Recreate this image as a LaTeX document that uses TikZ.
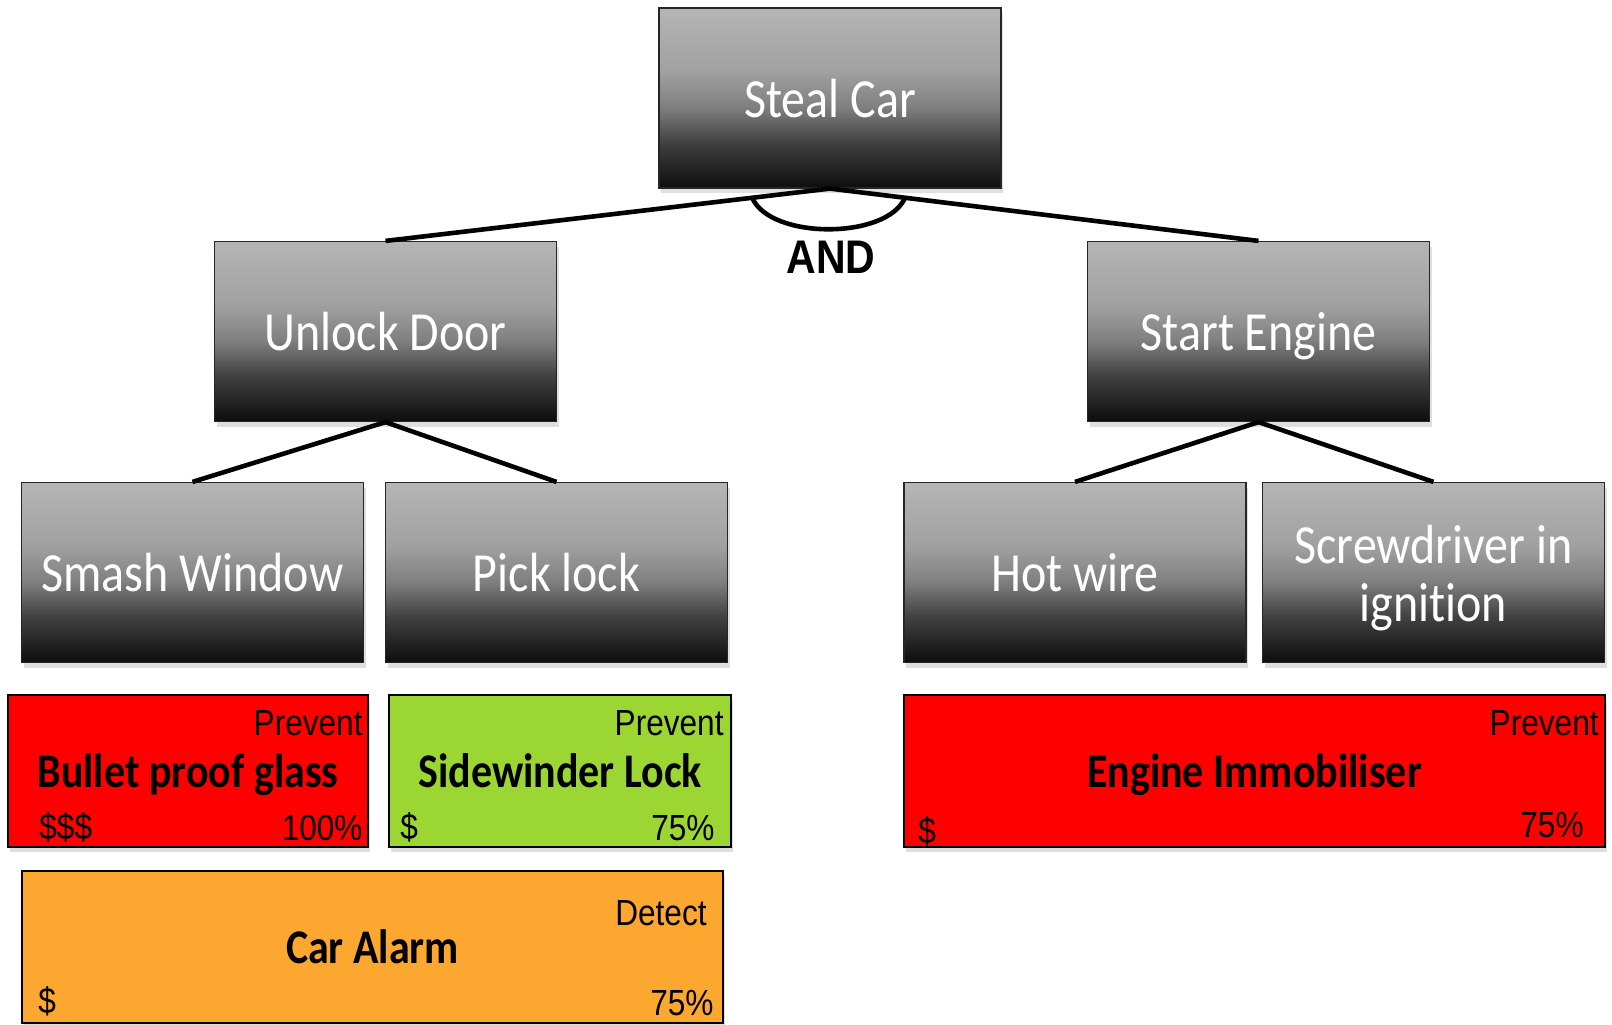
\documentclass[tikz,border=0pt]{standalone}
\usepackage{graphicx}
\usepackage{fontspec}
\setmainfont{Carlito}[Ligatures=NoCommon]
\newfontfamily\arialf{Liberation Sans}
\usetikzlibrary{calc,shadows}

% text set slightly taller than wide; descenders do not move the line
\newcommand{\tallbox}[1]{\raisebox{0pt}[\height][0pt]{\scalebox{1}[1.15]{#1}}}
% two-line variant, lowered a little inside its box
\newcommand{\tallpair}[2]{\raisebox{-4.1pt}[\height][\depth]{\scalebox{1}[1.15]{%
  \begin{tabular}{@{}c@{}}#1\\#2\end{tabular}}}}

% grey fade used by the attack steps: light on top, black at the foot
\pgfdeclareverticalshading{boxfade}{100bp}{%
  rgb(0bp)=(0.05,0.05,0.05); rgb(25bp)=(0.05,0.05,0.05);
  rgb(37.5bp)=(0.25,0.25,0.25); rgb(47.5bp)=(0.50,0.50,0.50);
  rgb(57.5bp)=(0.63,0.63,0.63); rgb(75bp)=(0.71,0.71,0.71);
  rgb(100bp)=(0.71,0.71,0.71)}

\definecolor{ctrlred}{RGB}{255,0,0}
\definecolor{ctrlgreen}{RGB}{155,214,50}
\definecolor{ctrlorange}{RGB}{252,167,48}

\tikzset{
  attack/.style={draw=black!85, line width=0.6pt, shading=boxfade,
    minimum width=171pt, minimum height=90pt, inner sep=0pt, text=white,
    font=\fontsize{24}{25.5}\selectfont,
    drop shadow={shadow xshift=1pt, shadow yshift=-2.5pt, opacity=0.25}},
  ctrl/.style={draw=black, line width=0.9pt, minimum height=76pt,
    inner sep=0pt, font=\bfseries\fontsize{21}{24}\selectfont,
    drop shadow={shadow xshift=1pt, shadow yshift=-2.5pt, opacity=0.25}},
  tag/.style={inner sep=0pt, font=\arialf\fontsize{15.8}{18}\selectfont},
  link/.style={line width=2.3pt},
}

\begin{document}
\begin{tikzpicture}[x=0.5pt, y=-0.5pt]
\useasboundingbox (0,0) rectangle (1612,1024);

% attack tree
\node[attack] (steal)  at (830,98)     {\tallbox{Steal Car}};
\node[attack] (unlock) at (385.5,331.5) {\tallbox{Unlock Door}};
\node[attack] (start)  at (1258.5,331.5) {\tallbox{Start Engine}};
\node[attack] (smash)  at (192.5,572.5) {\tallbox{Smash Window}};
\node[attack] (pick)   at (556.5,572.5) {\tallbox{Pick lock}};
\node[attack] (hot)    at (1075,572.5)  {\tallbox{Hot wire}};
\node[attack] (screw)  at (1433.5,572.5) {\tallpair{Screwdriver in}{ignition}};

\draw[link] (steal.south) -- (unlock.north);
\draw[link] (steal.south) -- (start.north);
\draw[link] (unlock.south) -- (smash.north);
\draw[link] (unlock.south) -- (pick.north);
\draw[link] (start.south) -- (hot.north);
\draw[link] (start.south) -- (screw.north);

% AND gate arc across the two branches
\coordinate (andl) at ($(steal.south)!0.175!(unlock.north)$);
\coordinate (andr) at ($(steal.south)!0.175!(start.north)$);
\draw[link] (andl) .. controls ($(andl)+(18,42)$) and ($(andr)+(-18,42)$) .. (andr);
\node[inner sep=0pt, font=\arialf\bfseries\fontsize{20.5}{24}\selectfont] (andlbl) at (831,257) {\tallbox{AND}};

% countermeasures
\node[ctrl, fill=ctrlred, minimum width=180pt] (bullet) at (188,771) {\tallbox{Bullet proof glass}};
\node[ctrl, fill=ctrlgreen, minimum width=171pt] (side) at (560,771) {\tallbox{Sidewinder Lock}};
\node[ctrl, fill=ctrlred, minimum width=350.5pt] (immob) at (1254.5,771) {\tallbox{Engine Immobiliser}};
\node[ctrl, fill=ctrlorange, minimum width=350.5pt] (alarm) at (372.5,947) {\tallbox{Car Alarm}};

\node[tag, anchor=east] (bulletkind) at (363,723) {\tallbox{Prevent}};
\node[tag, anchor=west] (bulletcost) at (39,826) {\tallbox{\$\$\$}};
\node[tag, anchor=east] (bulleteff)  at (363,828) {\tallbox{100\%}};

\node[tag, anchor=east] (sidekind) at (724,723) {\tallbox{Prevent}};
\node[tag, anchor=west] (sidecost) at (400,826) {\tallbox{\$}};
\node[tag, anchor=east] (sideeff)  at (715,828) {\tallbox{75\%}};

\node[tag, anchor=east] (immobkind) at (1599,723) {\tallbox{Prevent}};
\node[tag, anchor=west] (immobcost) at (918,830) {\tallbox{\$}};
\node[tag, anchor=east] (immobeff)  at (1584,825) {\tallbox{75\%}};

\node[tag, anchor=east] (alarmkind) at (707,913) {\tallbox{Detect}};
\node[tag, anchor=west] (alarmcost) at (38,1000) {\tallbox{\$}};
\node[tag, anchor=east] (alarmeff)  at (714,1003) {\tallbox{75\%}};
\end{tikzpicture}
\end{document}
